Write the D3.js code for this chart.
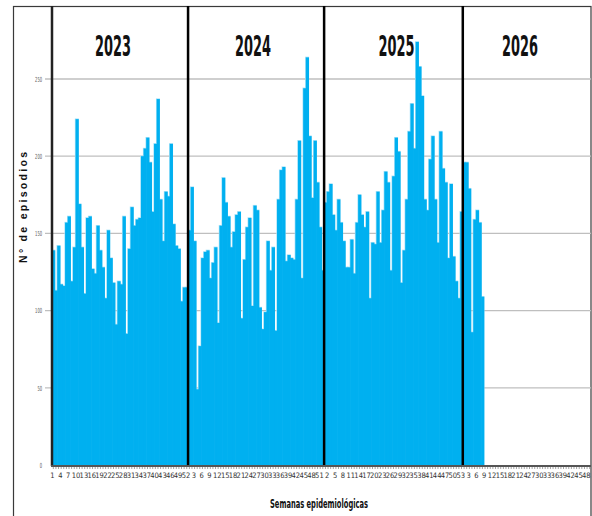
<!DOCTYPE html>
<html><head><meta charset="utf-8">
<script src="https://cdn.jsdelivr.net/npm/d3@7/dist/d3.min.js"></script>
<style>html,body{margin:0;padding:0;background:#fff;} svg{display:block;}</style>
</head><body>
<svg id="c" width="592" height="516"></svg>
<script>
// ---- data ----
const years = ["2023", "2024", "2025", "2026"];
const weeksInYear = [52, 52, 53, 49];
const values2023 = [139,113,142,117,116,157,161,119,141,224, 169,141,111,160,161,127,124,155,139,128,
                    108,152,134,118,91,119,117,161,85,140, 167,155,159,160,200,205,212,196,164,208,
                    237,172,145,177,174,208,156,142,140,106, 115,115];
const values2024 = [152,180,145,49,77,134,138,139,121,131, 141,92,155,186,170,161,141,151,162,164,
                    95,133,154,160,103,168,165,102,88,99, 145,126,141,87,172,191,193,132,136,134,
                    133,172,210,121,244,264,213,173,210,183, 154,126];
const values2025 = [170,177,182,162,152,172,157,145,128,128, 146,124,157,175,162,154,164,108,144,143,
                    177,144,165,190,183,126,187,212,203,118, 139,172,216,234,205,274,258,239,172,165,
                    198,213,172,144,216,192,183,134,182,135, 119,108,164];
const values2026 = [196,196,179,86,159,165,157,109];
const yTicks = [0, 50, 100, 150, 200, 250];
const labelEvery = 3;
const yTitle = "N° de episodios";
const xTitle = "Semanas epidemiológicas";

// ---- layout ----
const series = [values2023, values2024, values2025, values2026];
const data = [];
const yearStart = [];
years.forEach((yr, yi) => {
  yearStart.push(data.length);
  for (let w = 1; w <= weeksInYear[yi]; w++) {
    const v = series[yi][w - 1];
    data.push({ idx: data.length, year: yr, week: w, value: v == null ? 0 : v });
  }
});

const svg = d3.select("#c");
const L = 52, R = 591, T = 6, B = 465;
const x = d3.scaleBand().domain(data.map(d => d.idx)).range([L, R]).padding(0);
const y = d3.scaleLinear().domain([0, 300]).range([B, B - 300 * 1.544]);
const bw = x.bandwidth();
const blue = "#00B0F0";

// outer frame
svg.append("rect").attr("x", 13.5).attr("y", 6.5).attr("width", 577.5).attr("height", 530)
  .attr("fill", "none").attr("stroke", "#3a3a3a").attr("stroke-width", 1.2);

// gridlines
svg.append("g").selectAll("line").data(yTicks.filter(t => t > 0)).join("line")
  .attr("x1", 45).attr("x2", R).attr("y1", d => y(d)).attr("y2", d => y(d))
  .attr("stroke", "#bfbfbf").attr("stroke-width", 1.3);

// bars: light halo pass, then fill pass
const barData = data.filter(d => d.value > 0);
svg.append("g").selectAll("rect").data(barData).join("rect")
  .attr("x", d => x(d.idx) - 0.7).attr("width", bw + 1.4)
  .attr("y", d => y(d.value) - 0.7).attr("height", d => B - y(d.value) + 0.7)
  .attr("fill", "#a8e2f8");
svg.append("g").selectAll("rect").data(barData).join("rect")
  .attr("x", d => x(d.idx)).attr("width", bw + 0.6)
  .attr("y", d => y(d.value)).attr("height", d => B - y(d.value))
  .attr("fill", blue);

// year dividers
svg.append("g").selectAll("line").data(yearStart.slice(1)).join("line")
  .attr("x1", d => x(d)).attr("x2", d => x(d)).attr("y1", T).attr("y2", B)
  .attr("stroke", "#000").attr("stroke-width", 2.5);

// y axis line
svg.append("line").attr("x1", L).attr("x2", L).attr("y1", T).attr("y2", B + 1)
  .attr("stroke", "#222").attr("stroke-width", 2.5);

// x tick marks (all categories)
const xTickAxis = svg.append("g").attr("transform", `translate(0,${B + 1})`)
  .call(d3.axisBottom(x).tickSize(3).tickFormat(""));
xTickAxis.select(".domain").remove();
xTickAxis.selectAll("line").attr("stroke", "#8c8c8c").attr("stroke-width", 0.8);

// baseline
svg.append("line").attr("x1", L - 1).attr("x2", R).attr("y1", B + 1).attr("y2", B + 1)
  .attr("stroke", "#555").attr("stroke-width", 2);

// x labels
const xLab = svg.append("g").attr("transform", `translate(0,${B})`)
  .call(d3.axisBottom(x)
    .tickValues(data.filter(d => d.idx % labelEvery === 0).map(d => d.idx))
    .tickFormat(i => data[i].week).tickSize(0).tickPadding(13));
xLab.select(".domain").remove();
xLab.selectAll("text")
  .attr("font-family", "'Liberation Sans Narrow','DejaVu Sans Condensed',sans-serif")
  .attr("font-size", 7.5).attr("fill", "#333").attr("dy", 0)
  .attr("dx", -0.8);

// y labels
const yLab = svg.append("g").attr("transform", `translate(${L},0)`)
  .call(d3.axisLeft(y).tickValues(yTicks).tickSize(0).tickPadding(10));
yLab.select(".domain").remove();
yLab.selectAll("text")
  .attr("font-family", "'Liberation Sans Narrow','DejaVu Sans Condensed',sans-serif")
  .attr("font-size", 7).attr("fill", "#595959")
  .attr("textLength", d => String(d).length * 2.3).attr("lengthAdjust", "spacingAndGlyphs");

// year labels
const yearLabelShift = [-7, -3, 3, -7];
svg.append("g").selectAll("text").data(years).join("text")
  .attr("x", (d, i) => {
    const s = x(yearStart[i]);
    const e = i < years.length - 1 ? x(yearStart[i + 1]) : R;
    return (s + e) / 2 + yearLabelShift[i];
  })
  .attr("y", 56).attr("text-anchor", "middle")
  .attr("font-family", "'Liberation Sans Narrow','DejaVu Sans Condensed',sans-serif")
  .attr("font-weight", "bold").attr("font-size", 28).attr("fill", "#111")
  .attr("textLength", 36).attr("lengthAdjust", "spacingAndGlyphs")
  .text(d => d);

// axis titles
svg.append("text").attr("transform", "translate(26.5,207.5) rotate(-90)")
  .attr("text-anchor", "middle")
  .attr("font-family", "'Liberation Sans',Arial,sans-serif").attr("font-weight", "bold")
  .attr("font-size", 10.5).attr("fill", "#111")
  .attr("textLength", 111)
  .text(yTitle);

svg.append("text").attr("x", 319).attr("y", 508).attr("text-anchor", "middle")
  .attr("font-family", "'Liberation Sans Narrow','DejaVu Sans Condensed',sans-serif")
  .attr("font-weight", "bold").attr("font-size", 11.5).attr("fill", "#111")
  .attr("textLength", 98).attr("lengthAdjust", "spacingAndGlyphs")
  .text(xTitle);
</script>
</body></html>
